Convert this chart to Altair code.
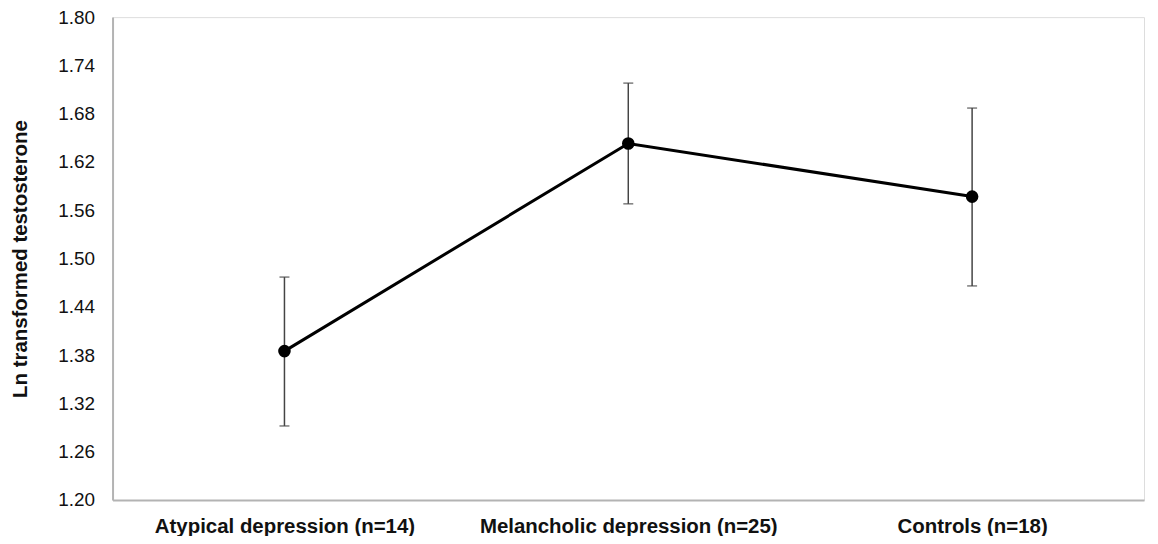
import altair as alt
import pandas as pd

groups = ["Atypical depression (n=14)", "Melancholic depression (n=25)", "Controls (n=18)"]
means = [1.385, 1.643, 1.577]
lower = [1.292, 1.568, 1.466]
upper = [1.477, 1.718, 1.687]
y_ticks = [1.20, 1.26, 1.32, 1.38, 1.44, 1.50, 1.56, 1.62, 1.68, 1.74, 1.80]

df = pd.DataFrame({"group": groups, "mean": means, "lower": lower, "upper": upper})

FONT = "Liberation Sans"

x_enc = alt.X(
    "group:N",
    sort=groups,
    scale=alt.Scale(type="point", padding=0.5),
    axis=alt.Axis(
        title=None, labelAngle=0, labelFont=FONT, labelFontSize=20.5, labelFontWeight="bold",
        labelColor="#111111", ticks=False, labelPadding=17, labelLimit=0,
        domainColor="#b3b3b3", domainWidth=2, grid=False,
    ),
)
y_scale = alt.Scale(domain=[1.20, 1.80], nice=False, zero=False)
y_axis = alt.Axis(
    title="Ln transformed testosterone", values=y_ticks, format=".2f",
    labelFont=FONT, labelFontSize=19, labelColor="#111111", ticks=False, labelPadding=18,
    domainColor="#b3b3b3", domainWidth=2, grid=False,
    titleFont=FONT, titleFontSize=20.5, titleFontWeight="bold", titleColor="#111111",
    titlePadding=27,
)

base = alt.Chart(df)

rules = base.mark_rule(color="#444444", strokeWidth=1.5).encode(
    x=x_enc, y=alt.Y("lower:Q", scale=y_scale, axis=y_axis), y2="upper:Q"
)
cap_top = base.mark_tick(color="#444444", orient="horizontal", size=10, thickness=1.5).encode(
    x=x_enc, y=alt.Y("upper:Q", scale=y_scale)
)
cap_bot = base.mark_tick(color="#444444", orient="horizontal", size=10, thickness=1.5).encode(
    x=x_enc, y=alt.Y("lower:Q", scale=y_scale)
)
line = base.mark_line(color="black", strokeWidth=3).encode(
    x=x_enc, y=alt.Y("mean:Q", scale=y_scale)
)
points = base.mark_circle(color="black", opacity=1, size=160).encode(
    x=x_enc, y=alt.Y("mean:Q", scale=y_scale)
)

chart = (
    alt.layer(rules, cap_top, cap_bot, line, points)
    .properties(
        width=1036, height=485,
        autosize=alt.AutoSizeParams(type="none"),
        padding={"left": 105, "top": 8, "right": 6, "bottom": 35},
    )
    .configure_view(stroke=None)
    .configure(background="white")
)

chart.save("out.html", embed_options={"renderer": "svg", "actions": False})
